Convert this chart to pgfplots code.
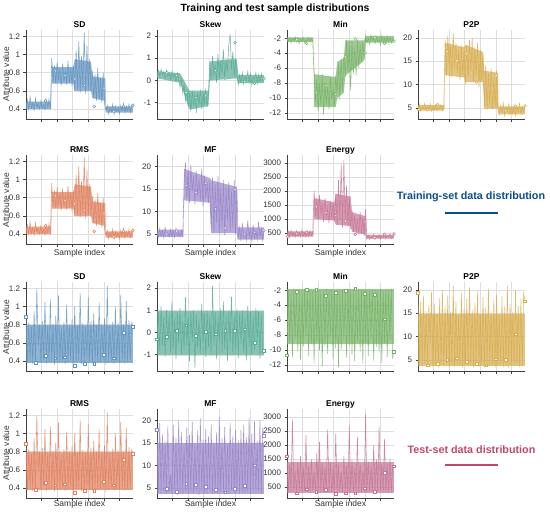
\documentclass[border=0pt]{standalone}
\usepackage{pgfplots}
\pgfplotsset{compat=1.18}
\usepackage{pgfplotstable}
\usepackage{fontspec}
\setmainfont{Liberation Sans}
\definecolor{cSD}{RGB}{98,148,192}
\definecolor{cSK}{RGB}{88,170,148}
\definecolor{cMN}{RGB}{118,178,102}
\definecolor{cPP}{RGB}{214,172,78}
\definecolor{cRM}{RGB}{224,128,94}
\definecolor{cMF}{RGB}{152,132,200}
\definecolor{cEN}{RGB}{196,118,148}
\definecolor{ctrain}{RGB}{10,75,150}
\definecolor{ctest}{RGB}{190,75,105}

% ---------------- training data ----------------
\pgfplotstableread[row sep=\\]{y\\
0.42\\0.50\\0.40\\0.53\\0.41\\0.47\\0.39\\0.52\\0.42\\0.46\\0.40\\0.49\\0.41\\0.45\\0.39\\0.50\\0.42\\0.51\\0.40\\
0.96\\0.70\\0.88\\0.68\\0.92\\0.72\\0.85\\0.66\\0.90\\0.70\\0.83\\0.67\\0.93\\0.69\\0.86\\0.65\\0.88\\
0.60\\1.05\\0.62\\1.15\\0.58\\0.98\\0.64\\1.24\\0.57\\1.10\\0.62\\0.95\\0.60\\
0.82\\0.52\\0.78\\0.49\\0.85\\0.50\\0.74\\0.47\\0.80\\0.46\\
0.38\\0.44\\0.35\\0.42\\0.37\\0.45\\0.34\\0.43\\0.37\\0.41\\0.35\\0.44\\0.38\\0.46\\0.36\\0.43\\0.38\\0.45\\0.36\\0.44\\0.46\\
}\sdtrain
\pgfplotstableread[row sep=\\]{y\\
0.15\\0.45\\0.20\\0.50\\0.25\\0.40\\0.10\\0.45\\0.20\\0.35\\0.05\\0.40\\0.15\\0.30\\0.00\\0.35\\0.10\\
-0.30\\0.05\\-0.55\\-0.20\\-0.90\\-0.40\\-1.20\\-0.55\\-1.40\\-0.45\\-1.05\\-0.60\\-1.45\\-0.50\\-1.10\\-0.40\\-1.30\\-0.55\\-1.00\\-0.35\\-1.20\\-0.60\\
0.90\\0.00\\1.10\\0.20\\0.70\\-0.10\\1.20\\0.10\\0.80\\0.30\\1.40\\0.05\\0.90\\0.40\\1.60\\2.10\\0.50\\1.30\\0.20\\1.00\\0.30\\
-0.20\\0.25\\-0.10\\0.35\\-0.15\\0.20\\0.00\\0.40\\-0.10\\0.30\\-0.20\\0.15\\0.05\\0.35\\-0.15\\0.25\\-0.05\\0.30\\0.00\\0.10\\
}\sktrain
\pgfplotstableread[row sep=\\]{y\\
-2.0\\-2.4\\-1.9\\-2.6\\-2.1\\-2.3\\-1.8\\-2.5\\-2.0\\-2.7\\-2.1\\-2.4\\-1.9\\-2.6\\-2.2\\-2.3\\-1.9\\-2.5\\-2.0\\-2.4\\
-6.5\\-10.5\\-7.5\\-11.8\\-8.0\\-11.0\\-6.8\\-12.2\\-7.8\\-10.8\\-8.5\\-11.5\\-7.2\\-10.2\\-8.8\\-11.0\\-7.0\\
-9.5\\-5.5\\-10.2\\-4.8\\-9.0\\-4.5\\
-7.2\\-2.3\\-6.5\\-3.0\\-9.0\\-2.4\\-6.8\\-3.2\\-7.0\\-2.2\\-6.0\\-2.8\\-5.2\\-2.5\\-4.8\\
-1.7\\-2.6\\-2.0\\-2.8\\-1.6\\-2.4\\-1.9\\-2.7\\-1.8\\-2.5\\-2.1\\-2.9\\-1.7\\-2.6\\-2.0\\-2.8\\-1.8\\-2.5\\-1.9\\-2.6\\-2.2\\-2.4\\
}\mntrain
\pgfplotstableread[row sep=\\]{y\\
4.5\\5.8\\4.3\\5.2\\4.8\\6.0\\4.4\\5.5\\4.6\\5.9\\4.3\\5.3\\4.7\\5.6\\4.4\\5.0\\4.8\\5.7\\4.5\\5.1\\
19.5\\12.0\\20.5\\14.0\\18.0\\11.5\\21.0\\13.5\\19.0\\12.5\\17.5\\11.0\\18.5\\12.0\\17.0\\
10.0\\18.5\\11.5\\19.5\\13.0\\20.0\\10.5\\18.0\\12.0\\19.0\\9.5\\17.5\\11.0\\16.5\\
5.0\\14.0\\4.5\\12.5\\5.5\\13.5\\4.8\\11.5\\5.2\\13.0\\4.6\\
3.5\\5.5\\4.0\\6.0\\3.3\\5.2\\4.2\\5.8\\3.6\\5.0\\3.8\\5.6\\3.4\\5.3\\4.1\\5.9\\3.7\\5.1\\4.0\\5.4\\
}\pptrain
\pgfplotstableread[row sep=\\]{y\\
5.5\\4.3\\6.2\\4.6\\5.8\\4.2\\6.5\\4.8\\5.3\\4.4\\6.0\\4.5\\5.7\\4.3\\6.3\\4.7\\5.4\\4.4\\5.9\\4.6\\
16.0\\21.0\\13.0\\19.5\\12.0\\20.5\\14.5\\18.0\\11.5\\19.0\\13.5\\17.5\\12.5\\19.5\\11.0\\18.0\\13.0\\16.5\\12.0\\17.0\\
6.0\\17.5\\5.2\\16.0\\7.5\\18.0\\5.0\\15.0\\6.5\\17.0\\4.8\\15.5\\8.0\\16.5\\5.5\\14.5\\6.5\\17.0\\5.0\\15.0\\
4.0\\6.5\\3.5\\7.5\\4.2\\5.5\\3.6\\8.0\\4.4\\6.0\\3.5\\7.0\\4.1\\5.8\\3.8\\7.8\\4.3\\6.2\\3.7\\5.5\\
}\mftrain
\pgfplotstableread[row sep=\\]{y\\
380\\560\\360\\600\\400\\520\\350\\580\\390\\540\\370\\610\\400\\500\\360\\570\\380\\590\\410\\530\\
2000\\1100\\1700\\950\\1850\\1200\\1500\\900\\1750\\1050\\1400\\850\\1650\\1000\\1550\\900\\
1900\\800\\2400\\950\\2950\\700\\3100\\850\\2200\\750\\1800\\650\\
1300\\550\\1150\\500\\1000\\450\\1250\\480\\1050\\400\\1350\\
300\\420\\280\\380\\320\\460\\290\\400\\330\\440\\280\\390\\340\\470\\300\\420\\350\\480\\310\\400\\360\\
}\entrain

% ---------------- test data ----------------
\pgfplotstableread[row sep=\\]{y\\
0.88\\0.38\\0.82\\0.40\\0.78\\0.37\\0.95\\0.39\\1.20\\0.57\\
0.80\\0.38\\0.84\\0.41\\1.05\\0.37\\0.79\\0.39\\1.08\\0.40\\
0.81\\0.36\\0.90\\0.42\\1.12\\0.38\\0.77\\0.40\\0.83\\0.37\\
1.02\\0.39\\0.80\\0.41\\0.86\\0.36\\1.00\\0.38\\0.79\\0.40\\
1.15\\0.37\\0.82\\0.39\\0.78\\0.42\\1.10\\0.38\\0.84\\0.37\\
0.92\\0.40\\0.80\\0.38\\1.05\\0.39\\0.81\\0.41\\0.87\\0.36\\
1.23\\0.38\\0.79\\0.40\\0.83\\0.37\\1.00\\0.39\\0.82\\0.38\\
1.13\\0.40\\0.80\\0.37\\1.06\\0.39\\0.85\\0.41\\0.82\\0.77\\
}\sdtest
\pgfplotstableread[row sep=\\]{y\\
-0.30\\0.90\\-0.80\\1.20\\-0.60\\0.70\\-1.10\\1.00\\-0.40\\0.80\\
-0.90\\1.40\\-0.70\\0.60\\-1.20\\0.90\\-0.50\\1.10\\-1.00\\0.50\\
-0.80\\1.60\\-0.60\\0.70\\-1.30\\0.95\\-0.45\\1.00\\-1.60\\0.80\\
-0.70\\0.60\\-0.95\\1.30\\-0.50\\0.85\\-1.10\\1.00\\-0.65\\0.75\\
-1.00\\2.10\\-0.60\\0.90\\-1.20\\0.70\\-0.40\\1.10\\-0.90\\1.40\\
-0.75\\0.80\\-1.30\\0.95\\-0.55\\1.60\\-1.00\\0.70\\-0.70\\1.05\\
-1.15\\0.85\\-0.50\\1.00\\-0.90\\0.65\\-1.25\\1.20\\-0.60\\0.90\\
-1.00\\0.75\\-0.80\\1.10\\-0.45\\0.95\\-1.20\\0.80\\-0.70\\-0.80\\
}\sktest
\pgfplotstableread[row sep=\\]{y\\
-10.5\\-1.9\\-9.0\\-2.1\\-11.0\\-1.8\\-8.5\\-2.0\\-10.2\\-1.9\\
-11.3\\-2.2\\-9.5\\-1.8\\-8.0\\-2.0\\-10.8\\-1.9\\-9.2\\-2.1\\
-11.8\\-1.8\\-8.8\\-2.0\\-10.0\\-1.9\\-12.2\\-2.1\\-9.5\\-1.8\\
-10.5\\-2.0\\-8.2\\-1.9\\-11.2\\-2.1\\-9.8\\-1.8\\-12.3\\-2.0\\
-10.0\\-1.9\\-8.6\\-2.2\\-11.0\\-1.8\\-9.3\\-2.0\\-10.6\\-1.9\\
-11.5\\-2.1\\-8.9\\-1.8\\-10.2\\-2.0\\-11.8\\-1.9\\-9.0\\-2.1\\
-10.8\\-1.8\\-8.4\\-2.0\\-11.4\\-1.9\\-9.6\\-2.1\\-10.3\\-1.8\\
-11.7\\-2.0\\-9.1\\-1.9\\-10.9\\-2.1\\-8.7\\-1.8\\-11.2\\-9.9\\
}\mntest
\pgfplotstableread[row sep=\\]{y\\
19.2\\3.8\\17.5\\3.4\\18.8\\4.2\\15.5\\3.6\\16.8\\8.5\\
19.5\\3.5\\17.0\\4.0\\14.8\\3.3\\18.2\\3.9\\20.0\\3.6\\
16.5\\4.1\\18.8\\3.4\\15.2\\3.8\\21.0\\3.5\\17.6\\4.0\\
14.5\\3.7\\19.3\\3.3\\16.0\\4.2\\18.0\\3.6\\20.5\\3.9\\
15.8\\3.4\\17.2\\4.0\\19.6\\3.5\\14.9\\3.8\\18.5\\3.3\\
16.2\\4.1\\20.2\\3.6\\15.5\\3.9\\17.8\\3.4\\19.0\\3.7\\
14.7\\4.0\\18.6\\3.5\\16.4\\3.8\\20.8\\3.3\\17.0\\4.2\\
15.3\\3.6\\19.8\\3.9\\16.6\\3.5\\18.3\\3.7\\19.5\\17.5\\
}\pptest
\pgfplotstableread[row sep=\\]{y\\
18.0\\4.0\\19.5\\3.6\\17.0\\4.4\\15.5\\3.8\\18.8\\4.2\\
8.0\\3.7\\19.0\\4.5\\16.2\\3.5\\20.0\\4.1\\17.5\\3.9\\
15.0\\4.3\\18.5\\3.6\\16.8\\4.0\\19.8\\3.8\\14.5\\4.4\\
17.8\\3.5\\20.5\\4.2\\15.8\\3.9\\18.2\\3.7\\16.5\\4.6\\
19.2\\3.8\\15.2\\4.1\\17.4\\3.6\\20.8\\4.3\\16.0\\3.9\\
18.6\\4.0\\14.8\\3.7\\19.5\\4.5\\16.7\\3.8\\18.0\\4.2\\
15.6\\3.6\\17.9\\4.0\\19.0\\3.9\\16.3\\4.4\\20.6\\3.7\\
17.2\\4.1\\19.8\\3.8\\15.4\\4.3\\20.2\\3.9\\18.4\\16.7\\
}\mftest
\pgfplotstableread[row sep=\\]{y\\
1500\\320\\1300\\300\\2900\\350\\1100\\310\\1400\\330\\
1600\\300\\1200\\340\\2350\\320\\1250\\300\\1500\\350\\
1050\\310\\1700\\330\\2100\\300\\1350\\340\\1200\\310\\
2550\\320\\1400\\300\\1150\\350\\2400\\310\\1300\\330\\
1050\\300\\1600\\340\\1250\\320\\2700\\310\\1450\\300\\
1200\\350\\2300\\310\\1350\\330\\1100\\300\\3100\\320\\
1400\\340\\1250\\310\\2000\\300\\1500\\330\\2650\\350\\
1300\\320\\2200\\300\\1350\\340\\1500\\310\\1250\\1200\\
}\entest

\pgfplotsset{
  panel/.style={
    scale only axis, width=107bp, height=89bp, anchor=north west,
    xmin=0, xmax=79, xtick={11.5,23,34.5,46,57.5,69}, xticklabels={},
    axis x line=bottom, axis y line=left,
    axis line style={-, draw=black!75, line width=0.8bp},
    tick align=outside, major tick length=2.5bp,
    every tick/.style={draw=black!75, line width=0.6bp},
    grid=major, major grid style={draw=black!13, line width=0.5bp},
    every axis title shift=0pt,
    title style={font=\bfseries\fontsize{8.5}{10}\selectfont, at={(0.5,1)}, anchor=base, yshift=2.5bp},
    tick label style={font=\fontsize{8}{9}\selectfont, text=black!80},
    /pgf/number format/assume math mode=true,
    /pgf/number format/1000 sep={},
  },
  sdax/.style={ymin=0.29, ymax=1.27, ytick={0.4,0.6,0.8,1,1.2}},
  skax/.style={ymin=-1.73, ymax=2.27, ytick={-1,0,1,2}},
  mnax/.style={ymin=-12.8, ymax=-0.9, ytick={-12,-10,-8,-6,-4,-2}},
  ppax/.style={ymin=2.6, ymax=21.7, ytick={5,10,15,20}},
  mfax/.style={ymin=2.8, ymax=22.6, ytick={5,10,15,20}},
  enax/.style={ymin=113, ymax=3282, ytick={500,1000,1500,2000,2500,3000}},
  band/.style={fill=#1, fill opacity=0.7, draw=none},
  ln/.style={color=#1, line width=0.55bp, opacity=0.85},
  trm/.style={only marks, mark=*, mark size=1.4bp, mark options={fill=white, draw=#1, line width=0.5bp}},
  tem/.style={only marks, mark=square*, mark size=1.3bp, mark options={fill=white, draw=#1, line width=0.5bp}},
}

\begin{document}
\begin{tikzpicture}
\path[use as bounding box] (0,0) rectangle (550bp,-514bp);
\node[font=\bfseries\fontsize{10.5}{12}\selectfont] at (275bp,-9bp) {Training and test sample distributions};

% ===== Row 1 (training) =====
\begin{axis}[panel, sdax, at={(26bp,-30bp)}, title={SD}]
\addplot[band=cSD] coordinates {(0,0.48)(18.5,0.48)(19,0.86)(35,0.86)(36,0.95)(48,0.92)(49,0.76)(58.5,0.74)(59,0.43)(79,0.43)(79,0.36)(59,0.36)(58.5,0.49)(49,0.52)(48,0.6)(36,0.6)(35,0.68)(19,0.68)(18.5,0.40)(0,0.40)} --cycle;
\addplot[ln=cSD] table[x expr=\coordindex, y=y] {\sdtrain};
\addplot[trm=cSD] coordinates {(7.2,0.42)(14.4,0.49)(21.6,0.82)(28.8,0.77)(36,0.73)(43.2,0.66)(50.4,0.43)(57.6,0.63)(64.8,0.37)(72,0.43)(79,0.44)};
\end{axis}
\begin{axis}[panel, skax, at={(157bp,-30bp)}, title={Skew}]
\addplot[band=cSK] coordinates {(0,0.42)(17,0.33)(20,0.0)(24,-0.45)(38,-0.45)(39,0.85)(52,0.95)(59,0.95)(60,0.25)(79,0.25)(79,-0.12)(60,-0.12)(59,0.1)(39,0.0)(38,-1.15)(24,-1.3)(20,-0.6)(17,-0.1)(0,0.1)} --cycle;
\addplot[ln=cSK] table[x expr=\coordindex, y=y] {\sktrain};
\addplot[trm=cSK] coordinates {(7.2,0.35)(14.4,0.22)(21.6,-0.54)(28.8,-0.77)(36,-0.69)(43.2,0.45)(50.4,0.11)(57.6,1.70)(64.8,-0.04)(72,-0.13)(79,0.08)};
\end{axis}
\begin{axis}[panel, mnax, at={(287bp,-30bp)}, title={Min}]
\addplot[band=cMN] coordinates {(0,-1.9)(19.5,-1.9)(20,-6.8)(36,-7.2)(37,-5.2)(42,-4.6)(43,-2.3)(57,-2.3)(58,-1.7)(79,-1.7)(79,-2.6)(58,-2.6)(57,-5)(43,-7)(42,-9.3)(37,-10)(36,-11.2)(20,-11.2)(19.5,-2.5)(0,-2.5)} --cycle;
\addplot[ln=cMN] table[x expr=\coordindex, y=y] {\mntrain};
\addplot[trm=cMN] coordinates {(7.2,-2.2)(14.4,-2.7)(21.6,-9.3)(28.8,-8.3)(36,-9.5)(43.2,-4.5)(50.4,-2.1)(57.6,-3.95)(64.8,-1.9)(72,-2.7)(79,-2.4)};
\end{axis}
\begin{axis}[panel, ppax, at={(418bp,-30bp)}, title={P2P}]
\addplot[band=cPP] coordinates {(0,5.6)(19.5,5.6)(20,19)(34,18)(35,18.5)(48,17)(49,13)(59,12.5)(59.5,5.3)(79,5.3)(79,3.6)(59.5,3.6)(59,4.8)(49,4.8)(48,10.5)(35,10.5)(34,11.5)(20,12)(19.5,4.4)(0,4.4)} --cycle;
\addplot[ln=cPP] table[x expr=\coordindex, y=y] {\pptrain};
\addplot[trm=cPP] coordinates {(0.5,4.6)(7.2,4.6)(14.4,5.7)(21.6,17.1)(28.8,15.1)(36,16.6)(43.2,10.5)(50.4,5.1)(57.6,12.0)(64.8,4.4)(72,5.3)(79,5.4)};
\end{axis}

% ===== Row 2 (training) =====
\begin{axis}[panel, sdax, at={(26bp,-155bp)}, title={RMS}]
\addplot[band=cRM] coordinates {(0,0.48)(18.5,0.48)(19,0.86)(35,0.86)(36,0.95)(48,0.92)(49,0.76)(58.5,0.74)(59,0.43)(79,0.43)(79,0.36)(59,0.36)(58.5,0.49)(49,0.52)(48,0.6)(36,0.6)(35,0.68)(19,0.68)(18.5,0.40)(0,0.40)} --cycle;
\addplot[ln=cRM] table[x expr=\coordindex, y=y] {\sdtrain};
\addplot[trm=cRM] coordinates {(7.2,0.42)(14.4,0.49)(21.6,0.82)(28.8,0.77)(36,0.73)(43.2,0.66)(50.4,0.43)(57.6,0.63)(64.8,0.37)(72,0.43)(79,0.44)};
\end{axis}
\begin{axis}[panel, mfax, at={(157bp,-155bp)}, title={MF}]
\addplot[band=cMF] coordinates {(0,6)(19.5,6)(20,19.5)(39,17.5)(40,17)(59,15.5)(59.5,6.5)(79,6.5)(79,3.8)(59.5,3.8)(59,5.2)(40,5.2)(39,12)(20,12.5)(19.5,4.4)(0,4.4)} --cycle;
\addplot[ln=cMF] table[x expr=\coordindex, y=y] {\mftrain};
\addplot[trm=cMF] coordinates {(7.2,5.0)(14.4,5.7)(21.6,15.8)(28.8,14.3)(36,16.3)(43.2,10.6)(50.4,6.3)(57.6,14.9)(64.8,5.0)(72,5.4)(79,5.8)};
\end{axis}
\begin{axis}[panel, enax, at={(287bp,-155bp)}, title={Energy}]
\addplot[band=cEN] coordinates {(0,560)(19.5,560)(20,1750)(35,1600)(36,1900)(47,1800)(48,1250)(58,1100)(58.5,440)(79,440)(79,300)(58.5,300)(58,450)(48,550)(47,750)(36,800)(35,950)(20,1000)(19.5,380)(0,380)} --cycle;
\addplot[ln=cEN] table[x expr=\coordindex, y=y] {\entrain};
\addplot[trm=cEN] coordinates {(0.5,380)(7.2,476)(14.4,534)(21.6,1438)(28.8,1239)(36,1122)(43.2,922)(50.4,453)(57.6,899)(64.8,335)(72,453)(79,476)};
\end{axis}

% ===== Row 3 (test) =====
\begin{axis}[panel, sdax, at={(26bp,-282bp)}, title={SD}]
\addplot[band=cSD] coordinates {(0,0.80)(79,0.80)(79,0.38)(0,0.38)} --cycle;
\addplot[ln=cSD] table[x expr=\coordindex, y=y] {\sdtest};
\addplot[tem=cSD] coordinates {(0,0.89)(7.2,0.38)(14.4,0.46)(21.6,0.43)(28.8,0.44)(36,0.35)(43.2,0.37)(50.4,0.37)(57.6,0.47)(64.8,0.43)(72,0.71)(79,0.78)};
\end{axis}
\begin{axis}[panel, skax, at={(157bp,-282bp)}, title={Skew}]
\addplot[band=cSK] coordinates {(0,0.95)(79,0.95)(79,-1.0)(0,-1.0)} --cycle;
\addplot[ln=cSK] table[x expr=\coordindex, y=y] {\sktest};
\addplot[tem=cSK] coordinates {(0,-0.30)(7.2,-0.19)(14.4,0.08)(21.6,0.32)(28.8,-0.15)(36,0.04)(43.2,-0.07)(50.4,0.07)(57.6,0.07)(64.8,0.15)(72,-0.47)(79,-0.81)};
\end{axis}
\begin{axis}[panel, mnax, at={(287bp,-282bp)}, title={Min}]
\addplot[band=cMN] coordinates {(0,-1.8)(79,-1.8)(79,-9.2)(0,-9.2)} --cycle;
\addplot[ln=cMN] table[x expr=\coordindex, y=y] {\mntest};
\addplot[tem=cMN] coordinates {(0,-10.7)(7.2,-2.2)(14.4,-1.9)(21.6,-1.9)(28.8,-2.7)(36,-2.3)(43.2,-2.05)(50.4,-1.8)(57.6,-2.5)(64.8,-2.6)(72,-5.9)(79,-10.2)};
\end{axis}
\begin{axis}[panel, ppax, at={(418bp,-282bp)}, title={P2P}]
\addplot[band=cPP] coordinates {(0,14.8)(79,14.8)(79,3.6)(0,3.6)} --cycle;
\addplot[ln=cPP] table[x expr=\coordindex, y=y] {\pptest};
\addplot[tem=cPP] coordinates {(0,19.4)(7.2,3.8)(14.4,4.2)(21.6,5.0)(28.8,5.3)(36,4.6)(43.2,4.2)(50.4,3.8)(57.6,5.1)(64.8,5.0)(72,10.5)(79,17.6)};
\end{axis}

% ===== Row 4 (test) =====
\begin{axis}[panel, sdax, at={(26bp,-409bp)}, title={RMS}]
\addplot[band=cRM] coordinates {(0,0.80)(79,0.80)(79,0.38)(0,0.38)} --cycle;
\addplot[ln=cRM] table[x expr=\coordindex, y=y] {\sdtest};
\addplot[tem=cRM] coordinates {(0,0.89)(7.2,0.38)(14.4,0.46)(21.6,0.43)(28.8,0.44)(36,0.35)(43.2,0.37)(50.4,0.37)(57.6,0.47)(64.8,0.43)(72,0.71)(79,0.78)};
\end{axis}
\begin{axis}[panel, mfax, at={(157bp,-409bp)}, title={MF}]
\addplot[band=cMF] coordinates {(0,15.0)(79,15.0)(79,3.7)(0,3.7)} --cycle;
\addplot[ln=cMF] table[x expr=\coordindex, y=y] {\mftest};
\addplot[tem=cMF] coordinates {(0,18.0)(7.2,4.8)(14.4,4.2)(21.6,6.0)(28.8,5.7)(36,5.3)(43.2,4.6)(50.4,4.1)(57.6,4.8)(64.8,5.5)(72,10.1)(79,16.7)};
\end{axis}
\begin{axis}[panel, enax, at={(287bp,-409bp)}, title={Energy}]
\addplot[band=cEN] coordinates {(0,1400)(79,1400)(79,290)(0,290)} --cycle;
\addplot[ln=cEN] table[x expr=\coordindex, y=y] {\entest};
\addplot[tem=cEN] coordinates {(0,1606)(7.2,284)(14.4,428)(21.6,344)(28.8,404)(36,260)(43.2,284)(50.4,284)(57.6,464)(64.8,344)(72,1017)(79,1245)};
\end{axis}

% ===== labels =====
\foreach \yy in {74,200,327,453}{
  \node[rotate=90, font=\fontsize{8.5}{10}\selectfont, text=black!80] at (6bp,-\yy bp) {Attribute value};
}
\foreach \xx in {79.5,210.5,340.5}{
  \node[font=\fontsize{8.5}{10}\selectfont, text=black!80] at (\xx bp,-253bp) {Sample index};
  \node[font=\fontsize{8.5}{10}\selectfont, text=black!80] at (\xx bp,-504bp) {Sample index};
}
\node[font=\bfseries\fontsize{10.8}{12}\selectfont, text=ctrain] at (471bp,-197bp) {Training-set data distribution};
\draw[ctrain, line width=2bp] (445bp,-213bp) -- (498bp,-213bp);
\node[font=\bfseries\fontsize{10.8}{12}\selectfont, text=ctest] at (471.5bp,-450bp) {Test-set data distribution};
\draw[ctest, line width=2bp] (445bp,-465bp) -- (498bp,-465bp);
\end{tikzpicture}
\end{document}
